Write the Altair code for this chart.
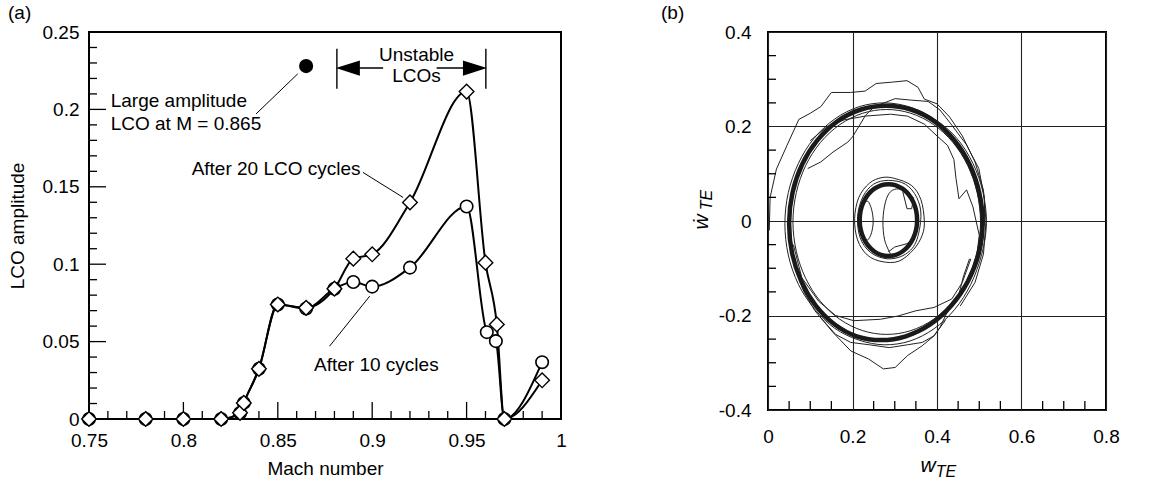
import altair as alt
import pandas as pd

FONT = "Liberation Sans"

# ---------------- panel (a) data ----------------
mach_20 = [0.75, 0.78, 0.80, 0.82, 0.83, 0.832, 0.84, 0.85, 0.865, 0.88, 0.89, 0.90, 0.92, 0.95, 0.96, 0.966, 0.97, 0.99]
amp_20 = [0, 0, 0, 0, 0.004, 0.0104, 0.0324, 0.074, 0.0718, 0.0842, 0.1036, 0.1064, 0.1399, 0.2115, 0.101, 0.0611, 0, 0.025]
mach_10 = [0.75, 0.78, 0.80, 0.82, 0.83, 0.832, 0.84, 0.85, 0.865, 0.88, 0.89, 0.90, 0.92, 0.95, 0.9607, 0.9655, 0.97, 0.99]
amp_10 = [0, 0, 0, 0, 0.0039, 0.0104, 0.0324, 0.074, 0.0714, 0.0842, 0.0885, 0.0855, 0.0978, 0.1373, 0.0561, 0.0503, 0, 0.0367]

big_x = [0.865]
big_y = [0.228]

a_x_major = [0.75, 0.8, 0.85, 0.9, 0.95, 1.0]
a_x_minor = [0.76, 0.77, 0.78, 0.79, 0.81, 0.82, 0.83, 0.84, 0.86, 0.87, 0.88, 0.89,
             0.91, 0.92, 0.93, 0.94, 0.96, 0.97, 0.98, 0.99]
a_y_major = [0, 0.05, 0.1, 0.15, 0.2, 0.25]
a_y_minor = [0.01, 0.02, 0.03, 0.04, 0.06, 0.07, 0.08, 0.09, 0.11, 0.12, 0.13, 0.14,
             0.16, 0.17, 0.18, 0.19, 0.21, 0.22, 0.23, 0.24]

left_text = ["Large amplitude", "LCO at M = 0.865"]
left_text_x = [0.7615, 0.7615]
left_text_y = [0.2057, 0.1906]
center_text = ["After 20 LCO cycles", "After 10 cycles", "Unstable", "LCOs"]
center_text_x = [0.8491, 0.9022, 0.9235, 0.9235]
center_text_y = [0.1615, 0.0352, 0.2349, 0.2215]

lead_x1 = [0.8385, 0.8951, 0.8774]
lead_y1 = [0.1971, 0.1593, 0.0470]
lead_x2 = [0.8606, 0.9164, 0.8987]
lead_y2 = [0.2230, 0.1431, 0.0794]

brk_x = [0.8813, 0.9602]
brk_y1 = [0.2133, 0.2133]
brk_y2 = [0.2392, 0.2392]
shaft_x1 = [0.8871, 0.9341]
shaft_x2 = [0.9058, 0.9544]
shaft_y = [0.2267, 0.2267]
head_left_x, head_right_x, head_y = [0.8871], [0.9544], [0.2267]

# ---------------- panel (b) data ----------------
b_major = [0, 0.2, 0.4, 0.6, 0.8]
b_y_major = [-0.4, -0.2, 0, 0.2, 0.4]
b_x_minor = [0.05, 0.1, 0.15, 0.25, 0.3, 0.35, 0.45, 0.5, 0.55, 0.65, 0.7, 0.75]
b_y_minor = [-0.35, -0.3, -0.25, -0.15, -0.1, -0.05, 0.05, 0.1, 0.15, 0.25, 0.3, 0.35]

outer_thick = [(0.508, -0.004), (0.500, 0.060), (0.477, 0.120), (0.441, 0.171), (0.394, 0.211),
               (0.338, 0.236), (0.279, 0.244), (0.220, 0.236), (0.164, 0.211), (0.117, 0.171),
               (0.081, 0.120), (0.058, 0.060), (0.050, -0.004), (0.057, -0.068), (0.079, -0.128),
               (0.113, -0.179), (0.158, -0.219), (0.210, -0.244), (0.268, -0.252), (0.326, -0.244),
               (0.384, -0.219), (0.434, -0.179), (0.473, -0.128), (0.499, -0.068)]
inner_thick = [(0.353, 0.002), (0.344, 0.040), (0.319, 0.068), (0.285, 0.078), (0.251, 0.068),
               (0.226, 0.040), (0.217, 0.002), (0.226, -0.036), (0.251, -0.064), (0.285, -0.074),
               (0.319, -0.064), (0.344, -0.036)]
thin_loop_a = [(0.517, -0.006), (0.509, 0.060), (0.485, 0.122), (0.447, 0.175), (0.397, 0.214),
               (0.340, 0.240), (0.278, 0.250), (0.216, 0.242), (0.158, 0.216), (0.108, 0.174),
               (0.072, 0.122), (0.048, 0.060), (0.040, -0.006), (0.048, -0.072), (0.072, -0.134),
               (0.110, -0.186), (0.158, -0.227), (0.215, -0.252), (0.275, -0.262), (0.336, -0.254),
               (0.393, -0.228), (0.442, -0.187), (0.480, -0.134), (0.506, -0.070)]
thin_loop_b = [(0.503, -0.002), (0.495, 0.060), (0.473, 0.117), (0.438, 0.166), (0.392, 0.204),
               (0.338, 0.228), (0.281, 0.236), (0.224, 0.228), (0.170, 0.204), (0.124, 0.166),
               (0.089, 0.117), (0.067, 0.060), (0.059, -0.002), (0.067, -0.064), (0.089, -0.121),
               (0.124, -0.170), (0.170, -0.208), (0.224, -0.232), (0.281, -0.240), (0.338, -0.232),
               (0.392, -0.208), (0.438, -0.170), (0.473, -0.121), (0.495, -0.064)]
thin_loop_c = [(0.370, 0.000), (0.362, 0.045), (0.340, 0.075), (0.300, 0.090), (0.270, 0.092),
               (0.240, 0.080), (0.215, 0.050), (0.205, 0.005), (0.212, -0.040), (0.235, -0.072),
               (0.270, -0.086), (0.310, -0.085), (0.345, -0.060), (0.365, -0.030)]
thin_loop_d = [(0.362, 0.010), (0.352, 0.050), (0.325, 0.078), (0.285, 0.086), (0.250, 0.078),
               (0.225, 0.052), (0.212, 0.010), (0.218, -0.035), (0.242, -0.066), (0.282, -0.080),
               (0.322, -0.072), (0.350, -0.045)]
smooth_e = [(0.225, 0.035), (0.236, 0.042), (0.245, 0.025), (0.249, 0.0), (0.245, -0.025),
            (0.236, -0.040), (0.225, -0.035)]
smooth_f = [(0.335, 0.060), (0.310, 0.068), (0.290, 0.062), (0.278, 0.040), (0.272, 0.001),
            (0.276, -0.040), (0.290, -0.070)]
jag_g = [(0.319, 0.062), (0.329, 0.026), (0.340, 0.026), (0.345, 0.050)]
jag_h = [(0.285, -0.065), (0.300, -0.055), (0.329, -0.048), (0.345, -0.040)]
jag_1 = [(0.003, -0.02), (0.005, 0.05), (0.02, 0.11), (0.045, 0.16), (0.073, 0.215), (0.10, 0.228),
         (0.125, 0.242), (0.15, 0.272), (0.195, 0.272), (0.23, 0.275), (0.256, 0.291), (0.295, 0.294),
         (0.329, 0.297), (0.355, 0.283), (0.37, 0.258), (0.40, 0.248), (0.43, 0.22), (0.46, 0.18),
         (0.49, 0.125), (0.51, 0.065), (0.516, 0.0), (0.51, -0.07), (0.49, -0.13), (0.455, -0.18)]
jag_2 = [(0.094, 0.111), (0.125, 0.125), (0.154, 0.146), (0.189, 0.167), (0.200, 0.178), (0.217, 0.203),
         (0.231, 0.224), (0.252, 0.242), (0.301, 0.259), (0.337, 0.256), (0.379, 0.253), (0.407, 0.235),
         (0.435, 0.203), (0.47, 0.161), (0.499, 0.111), (0.512, 0.05), (0.513, -0.01)]
jag_3 = [(0.10, 0.17), (0.14, 0.20), (0.18, 0.214), (0.23, 0.222), (0.29, 0.226), (0.33, 0.222),
         (0.37, 0.205), (0.40, 0.18), (0.425, 0.16), (0.44, 0.13), (0.445, 0.09), (0.452, 0.047),
         (0.47, 0.066), (0.485, 0.03), (0.50, -0.03), (0.492, -0.09)]
jag_4 = [(0.06, -0.09), (0.085, -0.15), (0.111, -0.190), (0.154, -0.236), (0.196, -0.275),
         (0.238, -0.292), (0.273, -0.313), (0.301, -0.310), (0.330, -0.285), (0.365, -0.264),
         (0.393, -0.243), (0.407, -0.225), (0.428, -0.186), (0.449, -0.165), (0.463, -0.116), (0.477, -0.080)]
jag_5 = [(0.06, -0.05), (0.08, -0.12), (0.12, -0.17), (0.16, -0.20), (0.203, -0.211), (0.266, -0.208),
         (0.308, -0.201), (0.35, -0.19), (0.393, -0.183), (0.435, -0.165), (0.46, -0.13), (0.48, -0.08)]
jag_6 = [(0.12, -0.20), (0.16, -0.24), (0.196, -0.257), (0.24, -0.262), (0.287, -0.268), (0.33, -0.262),
         (0.365, -0.257), (0.393, -0.243), (0.42, -0.21)]


def loops_df(named):
    rows = []
    for name, pts in named.items():
        for i, (px, py) in enumerate(pts):
            rows.append({"loop": name, "i": i, "x": px, "y": py})
    return pd.DataFrame(rows)


# ---------------- helpers ----------------
def vticks(vals, length, H, xs, w=1.3):
    return alt.Chart(pd.DataFrame({"x": vals})).mark_rule(color="black", strokeWidth=w).encode(
        x=alt.X("x:Q", scale=xs), y=alt.value(H), y2=alt.value(H - length))


def hticks(vals, length, ys, w=1.3):
    return alt.Chart(pd.DataFrame({"y": vals})).mark_rule(color="black", strokeWidth=w).encode(
        y=alt.Y("y:Q", scale=ys), x=alt.value(0), x2=alt.value(length))


# ---------------- panel (a) ----------------
W_A, H_A = 472, 387
xs_a = alt.Scale(domain=[0.75, 1.0], nice=False, zero=False)
ys_a = alt.Scale(domain=[0, 0.25], nice=False)

df10 = pd.DataFrame({"x": mach_10, "y": amp_10, "s": "10"})
df20 = pd.DataFrame({"x": mach_20, "y": amp_20, "s": "20"})
dfa = pd.concat([df10, df20], ignore_index=True)

xa = alt.X("x:Q", scale=xs_a, title="Mach number",
           axis=alt.Axis(values=a_x_major, format="~g", ticks=False, domain=False, grid=False,
                         labelPadding=12, titlePadding=9, labelFlush=False, labelOverlap=False))
ya = alt.Y("y:Q", scale=ys_a, title="LCO amplitude",
           axis=alt.Axis(values=a_y_major, format="~g", ticks=False, domain=False, grid=False,
                         labelPadding=10, titlePadding=15, labelFlush=False, labelOverlap=False))

lines_a = alt.Chart(dfa).mark_line(interpolate="monotone", color="black", strokeWidth=2).encode(
    x=xa, y=ya, detail="s:N")
circles_a = alt.Chart(df10).mark_point(shape="circle", filled=True, fill="white", stroke="black",
                                       strokeWidth=1.6, size=155, opacity=1).encode(
    x=alt.X("x:Q", scale=xs_a), y=alt.Y("y:Q", scale=ys_a))
diamonds_a = alt.Chart(df20).mark_point(shape="diamond", filled=True, fill="white", stroke="black",
                                        strokeWidth=1.4, size=215, opacity=1).encode(
    x=alt.X("x:Q", scale=xs_a), y=alt.Y("y:Q", scale=ys_a))
big_a = alt.Chart(pd.DataFrame({"x": big_x, "y": big_y})).mark_point(
    shape="circle", filled=True, color="black", size=200, opacity=1).encode(
    x=alt.X("x:Q", scale=xs_a), y=alt.Y("y:Q", scale=ys_a))

txt_left = alt.Chart(pd.DataFrame({"x": left_text_x, "y": left_text_y, "t": left_text})).mark_text(
    align="left", baseline="middle", font=FONT, fontSize=19, color="black").encode(
    x=alt.X("x:Q", scale=xs_a), y=alt.Y("y:Q", scale=ys_a), text="t:N")
txt_center = alt.Chart(pd.DataFrame({"x": center_text_x, "y": center_text_y, "t": center_text})).mark_text(
    align="center", baseline="middle", font=FONT, fontSize=19, color="black").encode(
    x=alt.X("x:Q", scale=xs_a), y=alt.Y("y:Q", scale=ys_a), text="t:N")

leaders = alt.Chart(pd.DataFrame({"x": lead_x1, "y": lead_y1, "x2": lead_x2, "y2": lead_y2})).mark_rule(
    color="black", strokeWidth=1).encode(
    x=alt.X("x:Q", scale=xs_a), y=alt.Y("y:Q", scale=ys_a), x2="x2:Q", y2="y2:Q")
brackets = alt.Chart(pd.DataFrame({"x": brk_x, "y": brk_y1, "y2": brk_y2})).mark_rule(
    color="black", strokeWidth=1.4).encode(
    x=alt.X("x:Q", scale=xs_a), y=alt.Y("y:Q", scale=ys_a), y2="y2:Q")
shafts = alt.Chart(pd.DataFrame({"x": shaft_x1, "x2": shaft_x2, "y": shaft_y})).mark_rule(
    color="black", strokeWidth=1.4).encode(
    x=alt.X("x:Q", scale=xs_a), x2="x2:Q", y=alt.Y("y:Q", scale=ys_a))
head_l = alt.Chart(pd.DataFrame({"x": head_left_x, "y": head_y})).mark_point(
    shape="M-1,0L1,-0.64L1,0.64Z", filled=True, color="black", size=576, opacity=1).encode(
    x=alt.X("x:Q", scale=xs_a), y=alt.Y("y:Q", scale=ys_a))
head_r = alt.Chart(pd.DataFrame({"x": head_right_x, "y": head_y})).mark_point(
    shape="M1,0L-1,-0.64L-1,0.64Z", filled=True, color="black", size=576, opacity=1).encode(
    x=alt.X("x:Q", scale=xs_a), y=alt.Y("y:Q", scale=ys_a))

left = alt.layer(
    lines_a,
    vticks(a_x_minor, 8, H_A, xs_a), vticks(a_x_major, 17, H_A, xs_a),
    hticks(a_y_minor, 8, ys_a), hticks(a_y_major, 17, ys_a),
    circles_a, diamonds_a, big_a, leaders, brackets, shafts, head_l, head_r,
    txt_left, txt_center,
).properties(width=W_A, height=H_A, title=alt.Title("(a)", offset=0))

# ---------------- panel (b) ----------------
W_B, H_B = 338, 378
xs_b = alt.Scale(domain=[0, 0.8], nice=False)
ys_b = alt.Scale(domain=[-0.4, 0.4], nice=False)

lab_expr = ("datum.value == 0 ? '0' : (datum.value < 0 ? '-' + format(-datum.value, '.1f') "
            ": format(datum.value, '.1f'))")
xb = alt.X("x:Q", scale=xs_b, title=None,
           axis=alt.Axis(values=b_major, labelExpr=lab_expr, ticks=False, domain=False, grid=True,
                         gridColor="#222222", gridWidth=1.1, labelPadding=17, labelFlush=False,
                         labelOverlap=False))
yb = alt.Y("y:Q", scale=ys_b, title=None,
           axis=alt.Axis(values=b_y_major, labelExpr=lab_expr, ticks=False, domain=False, grid=True,
                         gridColor="#222222", gridWidth=1.1, labelPadding=17, labelFlush=False,
                         labelOverlap=False))

thick_df = loops_df({"outer": outer_thick, "inner": inner_thick})
thin_closed_df = loops_df({"a": thin_loop_a, "b": thin_loop_b, "c": thin_loop_c, "d": thin_loop_d})
thin_smooth_df = loops_df({"e": smooth_e, "f": smooth_f})
thin_jag_df = loops_df({"g": jag_g, "h": jag_h, "1": jag_1, "2": jag_2, "3": jag_3,
                        "4": jag_4, "5": jag_5, "6": jag_6})

thin_closed = alt.Chart(thin_closed_df).mark_line(interpolate="cardinal-closed", color="#222222",
                                                  strokeWidth=1).encode(
    x=xb, y=yb, detail="loop:N", order="i:Q")
thin_smooth = alt.Chart(thin_smooth_df).mark_line(interpolate="cardinal", color="#222222",
                                                  strokeWidth=1).encode(
    x=alt.X("x:Q", scale=xs_b), y=alt.Y("y:Q", scale=ys_b), detail="loop:N", order="i:Q")
thin_jag = alt.Chart(thin_jag_df).mark_line(interpolate="linear", color="#222222",
                                            strokeWidth=1).encode(
    x=alt.X("x:Q", scale=xs_b), y=alt.Y("y:Q", scale=ys_b), detail="loop:N", order="i:Q")
thick = alt.Chart(thick_df).mark_line(interpolate="cardinal-closed", color="#1a1a1a",
                                      strokeWidth=4.5).encode(
    x=alt.X("x:Q", scale=xs_b), y=alt.Y("y:Q", scale=ys_b), detail="loop:N", order="i:Q")


def label(text, px, py, size, angle=0):
    return alt.Chart(pd.DataFrame({"t": [text]})).mark_text(
        font=FONT, fontStyle="italic", fontSize=size, angle=angle, align="center",
        baseline="middle", color="black").encode(text="t:N", x=alt.value(px), y=alt.value(py))


right = alt.layer(
    thin_closed, thin_smooth, thin_jag, thick,
    vticks(b_x_minor, 9, H_B, xs_b), hticks(b_y_minor, 8, ys_b),
    label("w", 160, H_B + 56, 21), label("TE", 178, H_B + 62, 16),
    label("\u1e87", -66, 190, 21, angle=270), label("TE", -61, 168, 16, angle=270),
).properties(width=W_B, height=H_B, title=alt.Title("(b)", offset=0, dx=-30))

chart = alt.hconcat(left, right, spacing=92).properties(
    padding={"left": 7, "top": 3, "right": 0, "bottom": 0}
).configure_view(stroke="black", strokeWidth=2).configure_axis(
    labelFont=FONT, titleFont=FONT, labelFontSize=19, titleFontSize=19,
    labelColor="black", titleColor="black", titleFontWeight="normal"
).configure_title(font=FONT, fontSize=19, fontWeight="normal", anchor="start", frame="bounds",
                  color="black")

chart.save("out.html", embed_options={"renderer": "svg", "actions": False})
